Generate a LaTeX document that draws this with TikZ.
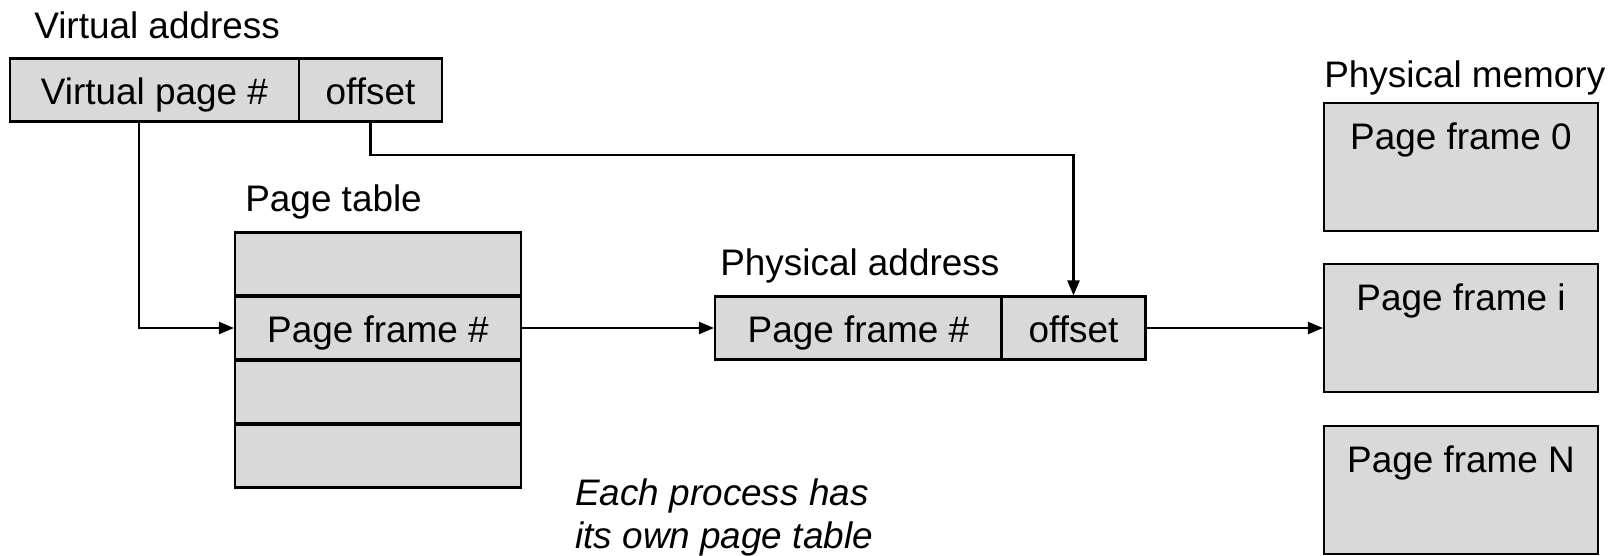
\documentclass[tikz,border=0pt]{standalone}
\usepackage{fontspec}
\setmainfont{Liberation Sans}
\usepackage{tikz}
\usetikzlibrary{
  positioning,
  arrows.meta,
  calc
}
\usepackage{xcolor}
\definecolor{cellfill}{HTML}{D9D9D9}

\begin{document}
\begin{tikzpicture}[
  font=\fontsize{21}{25}\selectfont,
  cell/.style={draw, fill=cellfill, line width=1.2pt, minimum height=1.26cm,
               inner sep=0pt, text height=0.68cm, text depth=0.10cm, align=center},
  frame/.style={draw, fill=cellfill, line width=1.2pt, minimum width=5.48cm,
                minimum height=2.56cm, inner sep=0pt},
  title/.style={anchor=west, inner sep=0pt},
  arr/.style={-{Triangle[length=0.3cm, width=0.24cm]}, line width=1.2pt, black}
]
  \useasboundingbox (0,0) rectangle (32.38,-11.10);

  % Virtual address
  \node[title] (vatitle) at (0.68, -0.50) {Virtual address};
  \node[cell, minimum width=5.78cm] (vpn) at (3.09, -1.80) {Virtual page \#};
  \node[cell, minimum width=2.86cm] (vaoff) at (7.41, -1.80) {offset};

  % Page table
  \node[title] (pttitle) at (4.90, -4.04) {Page table};
  \node[cell, minimum width=5.72cm] (row1) at (7.56, -5.28) {};
  \node[cell, minimum width=5.72cm] (row2) at (7.56, -6.56) {Page frame \#};
  \node[cell, minimum width=5.72cm] (row3) at (7.56, -7.84) {};
  \node[cell, minimum width=5.72cm] (row4) at (7.56, -9.12) {};

  % Physical address
  \node[title] (patitle) at (14.40, -5.32) {Physical address};
  \node[cell, minimum width=5.74cm] (pfn) at (17.17, -6.56) {Page frame \#};
  \node[cell, minimum width=2.88cm] (paoff) at (21.47, -6.56) {offset};

  % Physical memory
  \node[title] (pmtitle) at (26.48, -1.56) {Physical memory};
  \node[frame, label={[anchor=north, inner sep=0pt, yshift=-0.40cm]north:Page frame 0}]
    (frame0) at (29.22, -3.34) {};
  \node[frame, label={[anchor=north, inner sep=0pt, yshift=-0.40cm]north:Page frame i}]
    (framei) at (29.22, -6.56) {};
  \node[frame, label={[anchor=north, inner sep=0pt, yshift=-0.40cm]north:Page frame N}]
    (frameN) at (29.22, -9.80) {};

  % Note
  \node[font=\fontsize{21}{24.5}\selectfont\itshape, align=left, anchor=west, inner sep=0pt]
    (note) at (11.50, -10.34) {Each process has\\its own page table};

  % Connectors
  \draw[arr] ([xshift=-0.31cm]vpn.south) |- (row2.west);
  \draw[arr] (vaoff.south) -- ++(0,-0.64) -| (paoff.north);
  \draw[arr] (row2.east) -- (pfn.west);
  \draw[arr] (paoff.east) -- (paoff.east -| framei.west);
\end{tikzpicture}
\end{document}
